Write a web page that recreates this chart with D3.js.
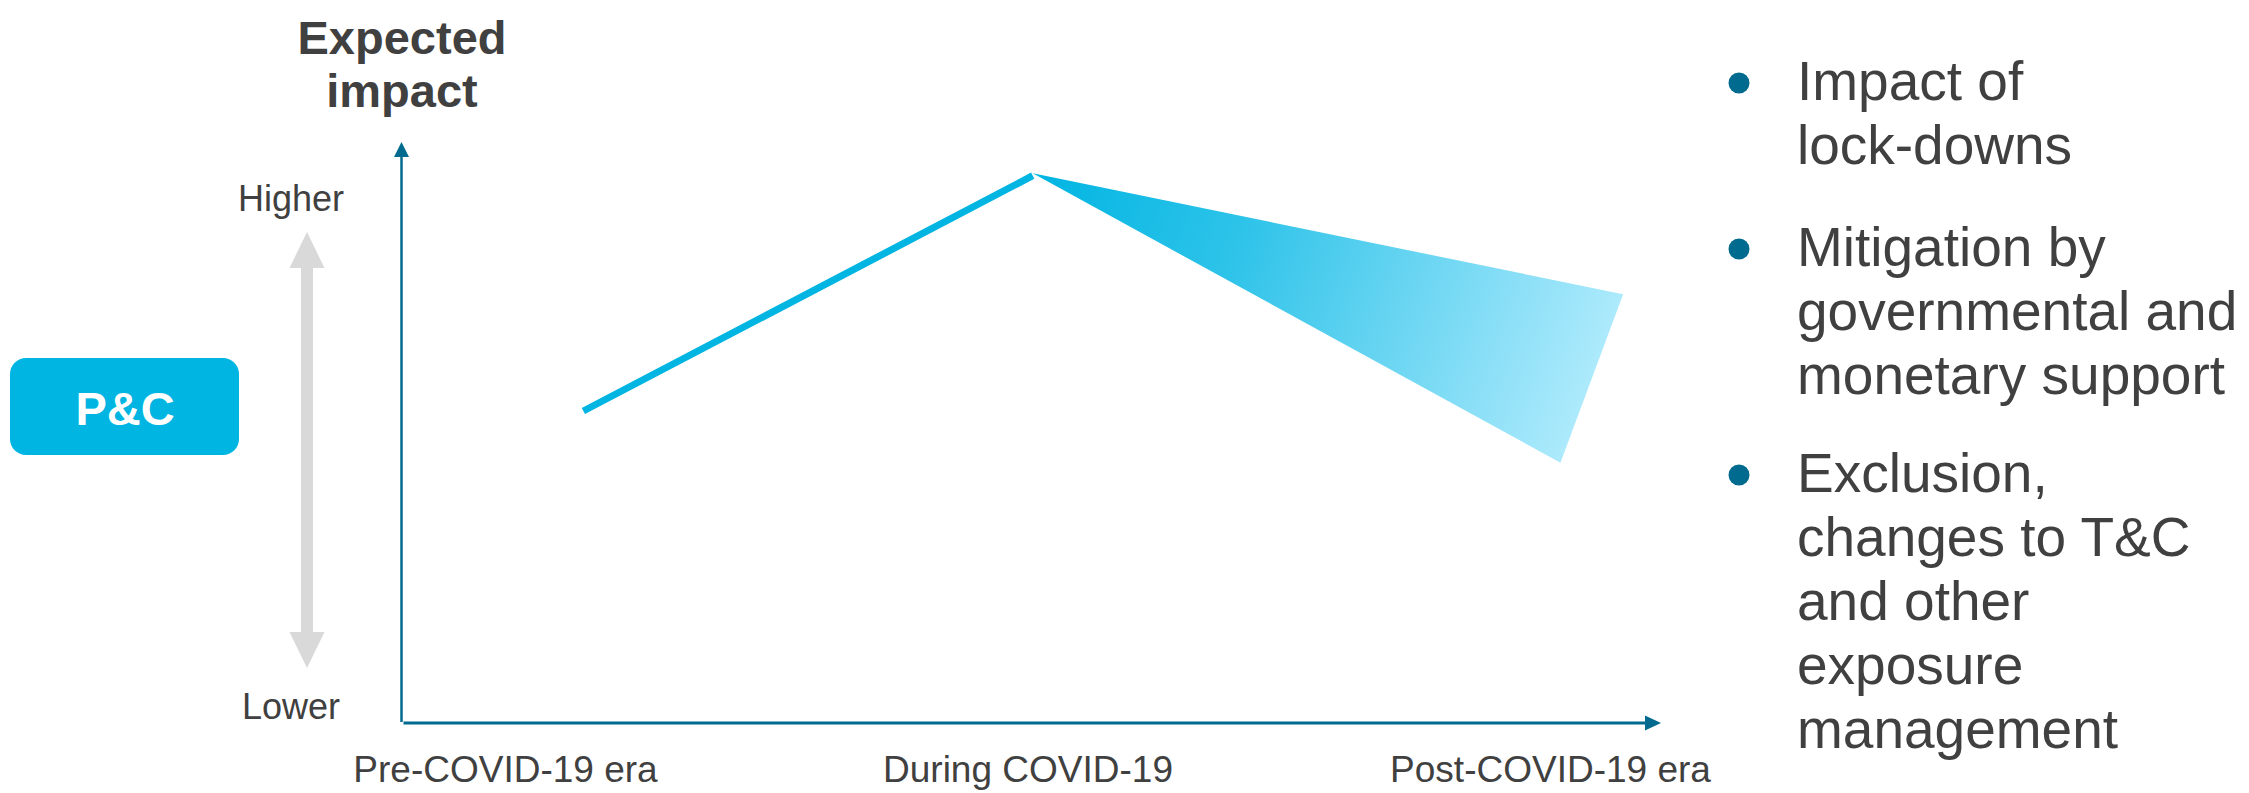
<!DOCTYPE html>
<html>
<head>
<meta charset="utf-8">
<script src="https://cdn.jsdelivr.net/npm/d3@7"></script>
<style>
  html, body { margin: 0; padding: 0; background: #ffffff; }
  svg { display: block; }
  text { font-family: "Liberation Sans", Arial, sans-serif; }
</style>
</head>
<body>
<svg id="chart" width="2249" height="793"></svg>
<script>
// Phases along the horizontal axis (position index 0..2)
const phases = ["Pre-COVID-19 era", "During COVID-19", "Post-COVID-19 era"];
const phasePositions = [0, 1, 2];

// Expected impact on a 0 (lower) .. 100 (higher) scale
const impactLine = [
  { t: 0.15, v: 53.7 },
  { t: 1.01, v: 94.2 }
];
// Post-COVID outlook: fan spreading from the peak to an upper and lower bound
const outlookFan = [
  { t: 1.01, v: 94.6 },
  { t: 2.14, v: 73.8 },
  { t: 2.02, v: 44.8 }
];

const bulletPoints = [
  ["Impact of", "lock-downs"],
  ["Mitigation by", "governmental and", "monetary support"],
  ["Exclusion,", "changes to T&C", "and other", "exposure", "management"]
];
const bulletBaselines = [100, 266, 492];

const colors = {
  text: "#404040",
  axis: "#006B8F",
  line: "#00B5E2",
  fanEnd: "#B4ECFD",
  guide: "#D9D9D9"
};

const svg = d3.select("#chart");

const x = d3.scaleLinear().domain([0, 2]).range([505, 1550]);
const y = d3.scaleLinear().domain([0, 100]).range([723, 142]);

const x0 = 401.5;          // y-axis position
const yBase = y(0);        // x-axis position

// Gradient for the outlook fan
const defs = svg.append("defs");
const grad = defs.append("linearGradient")
  .attr("id", "fanGrad")
  .attr("gradientUnits", "userSpaceOnUse")
  .attr("x1", x(outlookFan[0].t)).attr("y1", y(outlookFan[0].v))
  .attr("x2", x(2.12)).attr("y2", y(58));
grad.append("stop").attr("offset", "0").attr("stop-color", colors.line);
grad.append("stop").attr("offset", "0.35").attr("stop-color", "#2EC3E9");
grad.append("stop").attr("offset", "1").attr("stop-color", colors.fanEnd);

// Title of the vertical axis
svg.append("text")
  .attr("x", 402).attr("text-anchor", "middle")
  .attr("font-size", 47).attr("font-weight", "bold")
  .attr("fill", colors.text)
  .selectAll("tspan").data(["Expected", "impact"]).join("tspan")
  .attr("x", 402).attr("y", (d, i) => 54 + i * 53).text(d => d);

// Higher / Lower labels and the grey double arrow
svg.append("text").attr("x", 291).attr("y", 211).attr("text-anchor", "middle")
  .attr("font-size", 36).attr("fill", colors.text).text("Higher");
svg.append("text").attr("x", 291).attr("y", 719).attr("text-anchor", "middle")
  .attr("font-size", 36).attr("fill", colors.text).text("Lower");

const gx = 307, gTop = 232, gBot = 668, headH = 36, headW = 17.5, shaftW = 6;
svg.append("path")
  .attr("fill", colors.guide)
  .attr("d", `M${gx},${gTop} L${gx + headW},${gTop + headH} L${gx + shaftW},${gTop + headH}
    L${gx + shaftW},${gBot - headH} L${gx + headW},${gBot - headH} L${gx},${gBot}
    L${gx - headW},${gBot - headH} L${gx - shaftW},${gBot - headH} L${gx - shaftW},${gTop + headH}
    L${gx - headW},${gTop + headH} Z`);

// P&C badge
svg.append("rect")
  .attr("x", 10).attr("y", 358).attr("width", 229).attr("height", 97)
  .attr("rx", 16).attr("fill", colors.line);
svg.append("text").attr("x", 125).attr("y", 425).attr("text-anchor", "middle")
  .attr("font-size", 47).attr("font-weight", "bold").attr("fill", "#ffffff").text("P&C");

// Axes with arrowheads
svg.append("line")
  .attr("x1", x0).attr("y1", yBase - 1).attr("x2", x0).attr("y2", y(100) + 13)
  .attr("stroke", colors.axis).attr("stroke-width", 2.5);
svg.append("path").attr("fill", colors.axis)
  .attr("d", `M${x0 - 7.5},${y(100) + 15} L${x0},${y(100)} L${x0 + 7.5},${y(100) + 15} Z`);

const xEnd = 1661;
svg.append("line")
  .attr("x1", x0 + 2).attr("y1", yBase).attr("x2", xEnd - 14).attr("y2", yBase)
  .attr("stroke", colors.axis).attr("stroke-width", 3);
svg.append("path").attr("fill", colors.axis)
  .attr("d", `M${xEnd - 16},${yBase - 7.5} L${xEnd},${yBase} L${xEnd - 16},${yBase + 7.5} Z`);

// Phase labels
const xAxis = d3.axisBottom(x)
  .tickValues(phasePositions)
  .tickFormat(i => phases[i])
  .tickSize(0)
  .tickPadding(33);
const axisG = svg.append("g").attr("transform", `translate(0,${yBase})`).call(xAxis);
axisG.select(".domain").remove();
axisG.selectAll("text")
  .attr("font-size", 37)
  .attr("font-family", "\"Liberation Sans\", Arial, sans-serif")
  .attr("fill", colors.text);

// Outlook fan
svg.append("path")
  .datum(outlookFan)
  .attr("fill", "url(#fanGrad)")
  .attr("d", d3.line().x(d => x(d.t)).y(d => y(d.v)).curve(d3.curveLinearClosed));

// Impact line up to the peak
svg.append("path")
  .datum(impactLine)
  .attr("fill", "none")
  .attr("stroke", colors.line)
  .attr("stroke-width", 7)
  .attr("d", d3.line().x(d => x(d.t)).y(d => y(d.v)));

// Bullet list
const list = svg.append("g");
bulletPoints.forEach((lines, i) => {
  const b = bulletBaselines[i];
  list.append("circle").attr("cx", 1739).attr("cy", b - 17).attr("r", 10.5).attr("fill", colors.axis);
  list.append("text")
    .attr("font-size", 55).attr("fill", colors.text)
    .selectAll("tspan").data(lines).join("tspan")
    .attr("x", 1797).attr("y", (d, j) => b + j * 64).text(d => d);
});
</script>
</body>
</html>
